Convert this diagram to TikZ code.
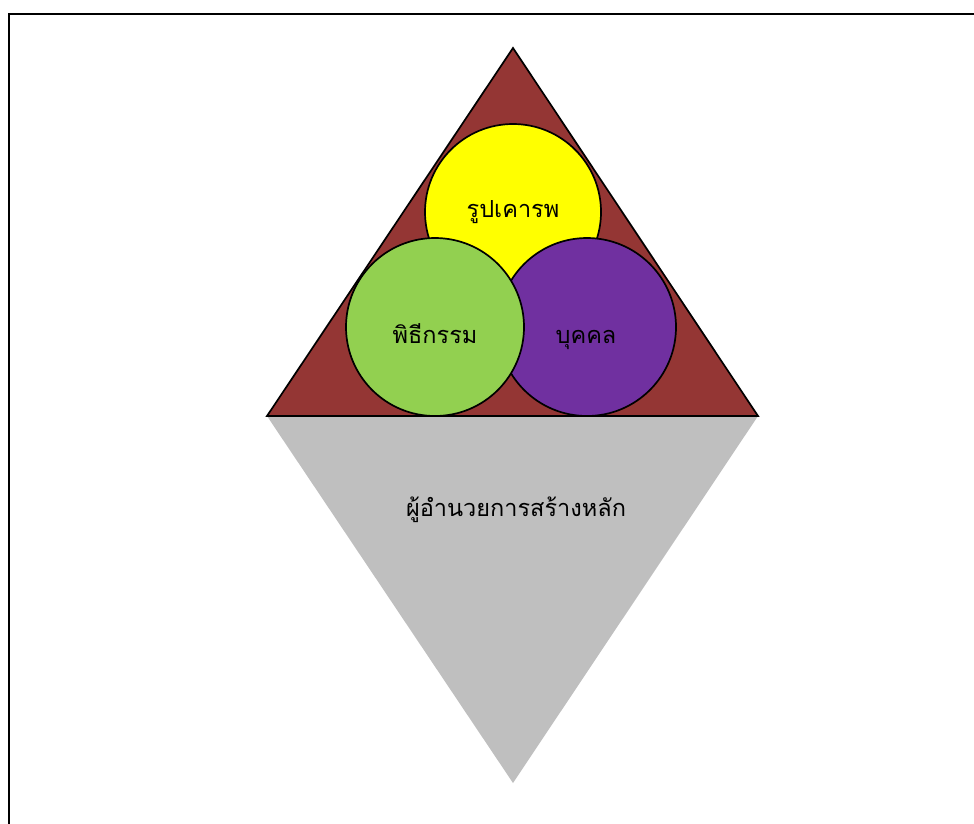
\documentclass[tikz,border=0pt]{standalone}
\usepackage{fontspec}
\newfontfamily\thaifont[Script=Thai]{Loma}
\definecolor{brownred}{HTML}{943634}
\definecolor{yel}{HTML}{FFFF00}
\definecolor{grn}{HTML}{92D050}
\definecolor{pur}{HTML}{7030A0}
\definecolor{gry}{HTML}{BFBFBF}
\tikzset{
  circ/.style={circle, draw=black, line width=1.7pt, inner sep=0pt},
  lbl/.style={font=\thaifont\fontsize{23.5}{28}\selectfont, text=black, inner sep=0pt, anchor=base}
}
\begin{document}
\begin{tikzpicture}[x=1pt,y=-1pt]
\useasboundingbox (0,0) rectangle (974,823);
\clip (0,0) rectangle (974,823);
\draw[line width=2pt] (8.5,13.5) rectangle (1000,850);
% lower inverted triangle
\fill[gry] (267,416) -- (758,416) -- (513,783) -- cycle;
% upper triangle
\draw[fill=brownred, line width=1.7pt, line join=miter] (513,48) -- (758,416) -- (267,416) -- cycle;
\node[circ, fill=yel, minimum size=176pt] (rup) at (513,212) {};
\node[circ, fill=pur, minimum size=178pt] (buk) at (587,327) {};
\node[circ, fill=grn, minimum size=178pt] (phi) at (435,327) {};
\node[lbl] (trup) at (513,217) {รูปเคารพ};
\node[lbl] (tphi) at (435,343) {พิธีกรรม};
\node[lbl] (tbuk) at (586,343) {บุคคล};
\node[lbl] (tdir) at (516,516) {ผู้อำนวยการสร้างหลัก};
\end{tikzpicture}
\end{document}
